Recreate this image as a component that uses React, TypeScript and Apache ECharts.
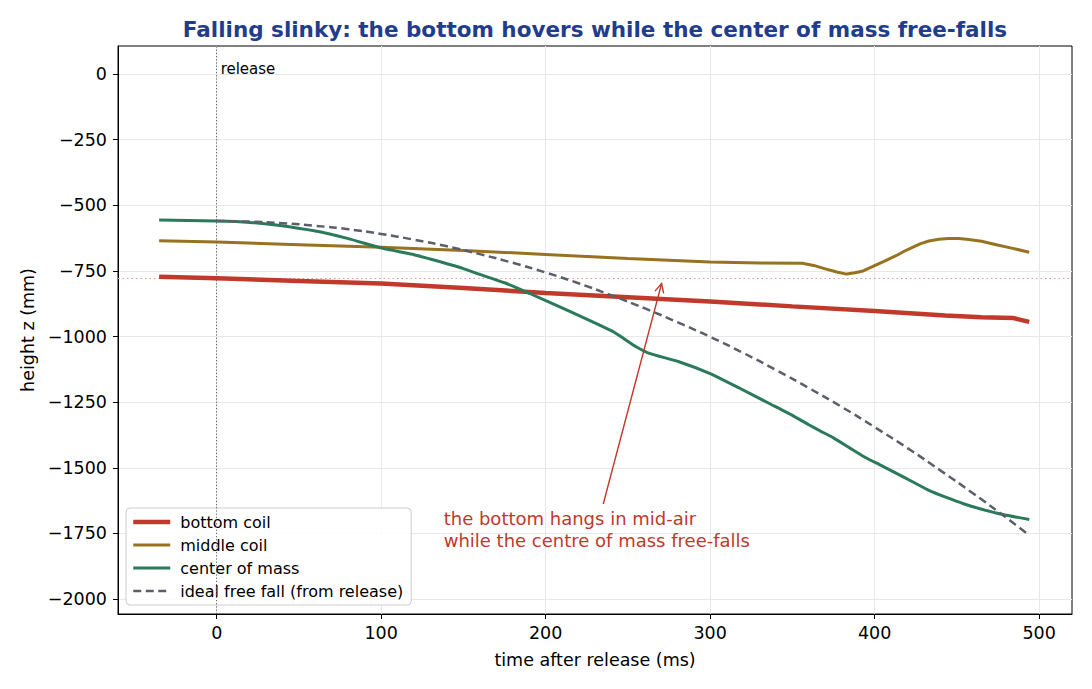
import React, { useEffect, useRef } from "react";
import * as echarts from "echarts";

const FONT = "DejaVu Sans";

const TITLE = "Falling slinky: the bottom hovers while the center of mass free-falls";
const X_NAME = "time after release (ms)";
const Y_NAME = "height z (mm)";

const X_TICKS = [0, 100, 200, 300, 400, 500];
const Y_TICKS = [-2000, -1750, -1500, -1250, -1000, -750, -500, -250, 0];

// bottom coil
const bottomT = [-35, 0, 50, 100, 150, 200, 250, 300, 350, 400, 443, 465, 484, 494];
const bottomZ = [-772, -778, -788, -798, -815, -834, -850, -866, -885, -903, -920, -926, -929, -944];

// middle coil
const middleT = [-35, 0, 50, 100, 150, 200, 250, 300, 330, 356, 363, 370, 377, 383, 388, 393, 400, 407, 413, 418, 423, 428, 433, 439, 445, 451, 456, 465, 474, 484, 494];
const middleZ = [-635, -640, -650, -660, -672, -687, -703, -716, -720, -721, -729, -742, -754, -762, -757, -750, -730, -710, -692, -675, -660, -646, -636, -629, -626, -626, -629, -637, -650, -664, -679];

// center of mass
const comT = [-35, 0, 20, 36, 60, 80, 101, 120, 137, 150, 160, 175, 190, 215, 241, 248, 255, 263, 281, 300, 318, 336, 350, 360, 367, 375, 385, 393, 403, 413, 423, 433, 444, 454, 464, 478, 494];
const comZ = [-556, -560, -565, -575, -598, -627, -664, -688, -717, -741, -763, -795, -835, -905, -981, -1010, -1039, -1064, -1096, -1141, -1197, -1255, -1300, -1336, -1360, -1386, -1425, -1456, -1488, -1520, -1553, -1586, -1614, -1637, -1656, -1678, -1697];

// ideal free fall (from release)
const freeT = [0, 20, 40, 60, 80, 100, 120, 140, 160, 180, 200, 220, 240, 260, 280, 300, 320, 340, 360, 380, 400, 420, 440, 460, 480, 494];
const freeZ = [-560, -562, -568, -578, -591, -609, -631, -656, -686, -719, -756, -797, -843, -892, -945, -1001, -1062, -1127, -1196, -1268, -1345, -1425, -1510, -1598, -1690, -1757];

const RELEASE_T = 0;
const BOTTOM_START_Z = -779;

const ANNOT_TEXT = "the bottom hangs in mid-air\nwhile the centre of mass free-falls";
const ANNOT_TEXT_AT = [138, -1736];
const ARROW_FROM = [235, -1638];
const ARROW_TO = [270.5, -798];
const RELEASE_LABEL_AT = [2.4, 19];

const zip = (a: number[], b: number[]) => a.map((v, i) => [v, b[i]]);
const fmt = (v: number) => String(v).replace("-", "\u2212");

export default function App() {
  const ref = useRef<HTMLDivElement>(null);
  useEffect(() => {
    document.body.style.margin = "0";
    const chart = echarts.init(ref.current!, null, { renderer: "svg" });
    const option: any = {
      animation: false,
      backgroundColor: "#fff",
      textStyle: { fontFamily: FONT },
      title: {
        text: TITLE,
        left: 590,
        top: 13,
        textAlign: "center",
        textStyle: { fontFamily: FONT, fontSize: 21.5, fontWeight: "bold", color: "#1f3d8c" },
      },
      grid: { left: 118, right: 20, top: 46, bottom: 75, show: true, borderColor: "#000", borderWidth: 1, backgroundColor: "transparent" },
      legend: {
        orient: "vertical",
        left: 126,
        top: 508,
        padding: [6, 8, 6, 5],
        itemGap: 7,
        itemWidth: 37,
        itemHeight: 14,
        backgroundColor: "rgba(255,255,255,0.85)",
        borderColor: "#cccccc",
        borderWidth: 1,
        borderRadius: 4,
        itemStyle: { opacity: 0 },
        textStyle: { fontFamily: FONT, fontSize: 16, color: "#000", padding: [0, 0, 0, 5] },
        data: [
          { name: "bottom coil", lineStyle: { width: 4.5 } },
          { name: "middle coil", lineStyle: { width: 3 } },
          { name: "center of mass", lineStyle: { width: 3 } },
          { name: "ideal free fall (from release)", lineStyle: { width: 2.5 } },
        ],
      },
      xAxis: {
        type: "value",
        min: -60,
        max: 520,
        name: X_NAME,
        nameLocation: "middle",
        nameGap: 37,
        nameTextStyle: { fontFamily: FONT, fontSize: 17.5, color: "#000" },
        axisLine: { show: true, onZero: false, lineStyle: { color: "#000", width: 1 } },
        axisTick: { show: true, customValues: X_TICKS, length: 5, lineStyle: { color: "#000" } },
        axisLabel: { customValues: X_TICKS, formatter: fmt, fontFamily: FONT, fontSize: 17.5, color: "#000", margin: 10 },
        splitLine: { show: true, lineStyle: { color: "#e8e8e8", width: 1 } },
      },
      yAxis: {
        type: "value",
        min: -2057,
        max: 107,
        name: Y_NAME,
        nameLocation: "middle",
        nameGap: 81,
        nameTextStyle: { fontFamily: FONT, fontSize: 17.5, color: "#000" },
        axisLine: { show: true, onZero: false, lineStyle: { color: "#000", width: 1 } },
        axisTick: { show: true, customValues: Y_TICKS, length: 5, lineStyle: { color: "#000" } },
        axisLabel: { customValues: Y_TICKS, formatter: fmt, fontFamily: FONT, fontSize: 17.5, color: "#000", margin: 11 },
        splitLine: { show: true, lineStyle: { color: "#e8e8e8", width: 1 } },
      },
      series: [
        {
          name: "bottom coil",
          type: "line",
          data: zip(bottomT, bottomZ),
          showSymbol: false,
          symbol: "none",
          z: 5,
          lineStyle: { color: "#c0392b", width: 4.5 },
          itemStyle: { color: "transparent" },
          markLine: {
            silent: true,
            symbol: ["none", "none"],
            label: { show: false },
            data: [
              { yAxis: BOTTOM_START_Z, lineStyle: { color: "#e39a93", width: 1.2, type: [1.5, 3] } },
              { xAxis: RELEASE_T, lineStyle: { color: "#666", width: 1, type: [1.2, 2] } },
            ],
          },
        },
        {
          name: "middle coil",
          type: "line",
          data: zip(middleT, middleZ),
          showSymbol: false,
          symbol: "none",
          z: 4,
          lineStyle: { color: "#977220", width: 3 },
          itemStyle: { color: "transparent" },
        },
        {
          name: "center of mass",
          type: "line",
          data: zip(comT, comZ),
          showSymbol: false,
          symbol: "none",
          smooth: 0.15,
          z: 6,
          lineStyle: { color: "#2b7a5c", width: 3 },
          itemStyle: { color: "transparent" },
        },
        {
          name: "ideal free fall (from release)",
          type: "line",
          data: zip(freeT, freeZ),
          showSymbol: false,
          symbol: "none",
          smooth: true,
          z: 7,
          lineStyle: { color: "#5b5f69", width: 2.5, type: [8, 4.5] },
          itemStyle: { color: "transparent" },
        },
      ],
    };
    chart.setOption(option);

    const p = (v: number[]) => chart.convertToPixel({ gridIndex: 0 }, v) as number[];
    const a0 = p(ARROW_FROM);
    const a1 = p(ARROW_TO);
    const dx = a1[0] - a0[0];
    const dy = a1[1] - a0[1];
    const len = Math.sqrt(dx * dx + dy * dy);
    const ux = dx / len;
    const uy = dy / len;
    const hl = 9;
    const hw = 4.5;
    const bx = a1[0] - ux * hl;
    const by = a1[1] - uy * hl;
    const left = [bx - uy * hw, by + ux * hw];
    const right = [bx + uy * hw, by - ux * hw];
    const tp = p(ANNOT_TEXT_AT);
    const rp = p(RELEASE_LABEL_AT);

    chart.setOption({
      graphic: [
        {
          type: "line",
          silent: true,
          z: 20,
          shape: { x1: a0[0], y1: a0[1], x2: a1[0], y2: a1[1] },
          style: { stroke: "#c0392b", lineWidth: 1.4 },
        },
        {
          type: "polyline",
          silent: true,
          z: 20,
          shape: { points: [left, a1, right] },
          style: { stroke: "#c0392b", lineWidth: 1.4, fill: null },
        },
        {
          type: "text",
          silent: true,
          z: 20,
          x: tp[0],
          y: tp[1],
          style: {
            text: ANNOT_TEXT,
            fill: "#c0392b",
            font: `18px '${FONT}'`,
            lineHeight: 21.5,
            textAlign: "left",
            textVerticalAlign: "middle",
          },
        },
        {
          type: "text",
          silent: true,
          z: 20,
          x: rp[0],
          y: rp[1],
          style: {
            text: "release",
            fill: "#000",
            font: `15px '${FONT}'`,
            textAlign: "left",
            textVerticalAlign: "middle",
          },
        },
      ],
    });

    return () => chart.dispose();
  }, []);
  return <div ref={ref} style={{ position: "fixed", left: 0, top: 0, width: 1092, height: 689 }} />;
}
